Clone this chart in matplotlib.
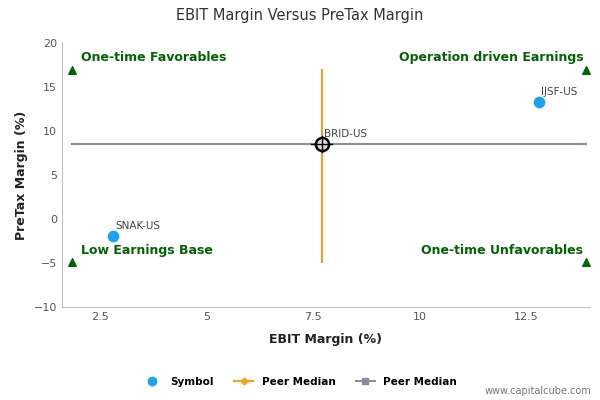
import matplotlib.pyplot as plt
from matplotlib.lines import Line2D

symbols = ['IJSF-US', 'BRID-US', 'SNAK-US']
ebit = [12.8, 7.7, 2.8]
pretax = [13.3, 8.5, -1.9]
median_x = 7.7
median_y = 8.5
x_lo, x_hi = 1.85, 13.9
y_lo, y_hi = -4.9, 17.0

fig = plt.figure(figsize=(6, 4), dpi=100)
ax = fig.add_axes([0.103, 0.232, 0.88, 0.66])

ax.plot([x_lo, x_hi], [median_y, median_y], color='#8c8c9c', lw=1.5, zorder=1)
ax.plot([median_x, median_x], [y_lo, y_hi], color='#f7a01c', lw=1.5, zorder=1)
ax.scatter(ebit[::2], pretax[::2], s=55, color='#1aa3ef', zorder=3)
ax.scatter([median_x], [median_y], s=90, facecolor='#dddddd', edgecolor='black', lw=1.8, zorder=4)
ax.plot([median_x - 0.25, median_x + 0.25], [median_y, median_y], color='black', lw=1, zorder=5)
ax.plot([median_x, median_x], [median_y - 0.9, median_y + 0.9], color='black', lw=1, zorder=5)
for s, x, y in zip(symbols, ebit, pretax):
    ax.annotate(s, (x, y), xytext=(2, 5), textcoords='offset points', fontsize=7.5, color='#444444')

green = '#006400'
ax.scatter([x_lo, x_hi, x_lo, x_hi], [y_hi, y_hi, y_lo, y_lo], marker='^', s=30, color=green, zorder=3)
kw = dict(color=green, fontsize=9, fontweight='bold')
ax.text(x_lo + 0.2, y_hi + 1.0, 'One-time Favorables', ha='left', **kw)
ax.text(x_hi - 0.05, y_hi + 1.0, 'Operation driven Earnings', ha='right', **kw)
ax.text(x_lo + 0.2, y_lo + 1.0, 'Low Earnings Base', ha='left', **kw)
ax.text(x_hi - 0.05, y_lo + 1.0, 'One-time Unfavorables', ha='right', **kw)

ax.set_xlim(1.6, 14.0)
ax.set_ylim(-10, 20)
ax.set_xticks([2.5, 5, 7.5, 10, 12.5])
ax.set_xticklabels(['2.5', '5', '7.5', '10', '12.5'])
ax.set_yticks(range(-10, 21, 5))
ax.tick_params(labelsize=8, colors='#555555', length=0)
for sp in ['top', 'right']:
    ax.spines[sp].set_visible(False)
ax.spines['left'].set_color('#c0c0c0')
ax.spines['bottom'].set_color('#c0c0c0')
ax.set_xlabel('EBIT Margin (%)', fontsize=9, fontweight='bold', color='#222222', labelpad=8)
ax.set_ylabel('PreTax Margin (%)', fontsize=9, fontweight='bold', color='#222222')
fig.text(0.5, 0.95, 'EBIT Margin Versus PreTax Margin', ha='center', fontsize=10.5, color='#333333')

handles = [
    Line2D([], [], marker='o', color='#1aa3ef', ls='none', markersize=6),
    Line2D([], [], marker='D', color='#f7a01c', lw=1.5, markersize=3.5),
    Line2D([], [], marker='s', color='#8c8c9c', lw=1.5, markersize=4),
]
fig.legend(handles, ['Symbol', 'Peer Median', 'Peer Median'], loc='center', bbox_to_anchor=(0.5, 0.045),
           ncol=3, frameon=False, prop={'size': 7.5, 'weight': 'bold'}, handlelength=1.8)
fig.text(0.985, 0.015, 'www.capitalcube.com', ha='right', fontsize=7, color='#777777')

fig.savefig('out.png')
